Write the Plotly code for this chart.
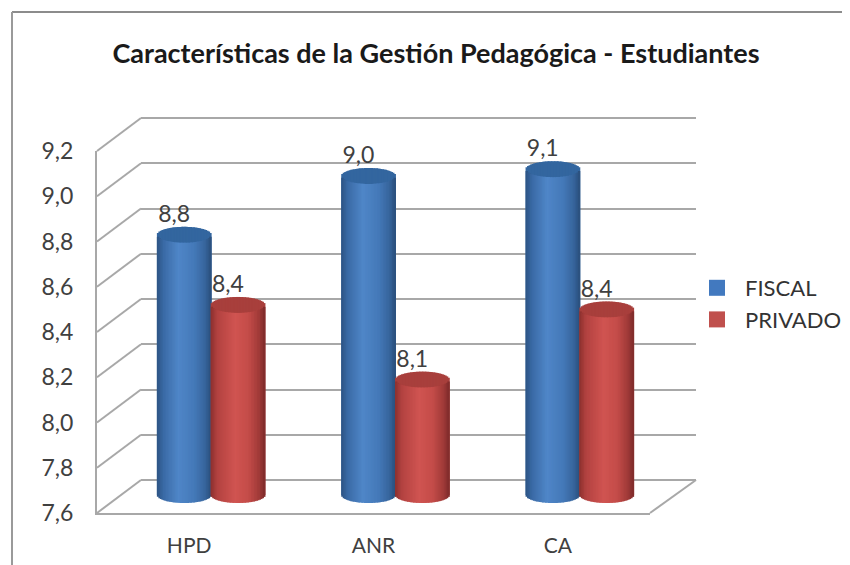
import math
import plotly.graph_objects as go

categories = ["HPD", "ANR", "CA"]
fiscal = [8.75, 9.01, 9.04]
privado = [8.44, 8.11, 8.42]
fiscal_labels = ["8,8", "9,0", "9,1"]
privado_labels = ["8,4", "8,1", "8,4"]
tick_values = [7.6, 7.8, 8.0, 8.2, 8.4, 8.6, 8.8, 9.0, 9.2]
tick_labels = ["7,6", "7,8", "8,0", "8,2", "8,4", "8,6", "8,8", "9,0", "9,2"]

# the page has an 8px body margin, the figure fills what is left of the window
PAGE = 8
W, H = 850 - PAGE, 565 - PAGE
FONT = "Lato"
TXT = "#404040"
GRID = "#a8a8a8"
FRONT = dict(l=97, r=650, b=513, t=151)
DX, DY_MID, DY_BACK = 22, 18, 33
UNIT = (FRONT["b"] - FRONT["t"]) / 1.6
EXTRA = 22  # px the mid plane extends below its floor, for the round cylinder base
PAD = 6     # px the back wall extends past its first and last gridline
RX = 0.146  # half a cylinder, in category units
RY = 8 / UNIT  # half height of the ellipses, in value units
N = 36

BLUE = [(0, "#2c5383"), (.12, "#3a6aa5"), (.4, "#4f86c8"), (.7, "#4479b8"), (.9, "#36649b"), (1, "#2a4f7c")]
RED = [(0, "#8c302e"), (.12, "#b24240"), (.45, "#d05451"), (.7, "#c44c49"), (.9, "#a03a38"), (1, "#7e2b2a")]
BLUE_TOP, RED_TOP = "#33669f", "#a83f3c"


def mix(stops, u):
    for (a, ca), (b, cb) in zip(stops, stops[1:]):
        if u <= b:
            f = (u - a) / (b - a)
            ch = [round(int(ca[i:i + 2], 16) * (1 - f) + int(cb[i:i + 2], 16) * f) for i in (1, 3, 5)]
            return "rgb({},{},{})".format(*ch)
    return stops[-1][1]


def px(x):
    return (x - PAGE) / W


def py(y):
    return (H + PAGE - y) / H


fig = go.Figure()

# back wall: its gridlines are the axis grid of the first subplot
fig.add_trace(go.Scatter(x=[None], y=[None], xaxis="x", yaxis="y", showlegend=False, hoverinfo="skip"))


def cylinders(values, centre, stops, top):
    step = 2 * RX / N
    w = step * 1.6
    strips = []
    for k in range(N):
        u = (k + .5) / N
        arc = RY * math.sqrt(1 - (2 * u - 1) ** 2)
        strips.append((u, arc, [i + centre - RX + u * 2 * RX for i in range(3)]))
    # the lids go first, so that no lid strip overlaps a neighbouring body strip
    for u, arc, xs in strips:
        fig.add_trace(go.Bar(
            x=xs, y=[v + arc - 7.6 for v in values], base=7.6, width=w,
            marker=dict(color=top, line=dict(width=0)), xaxis="x2", yaxis="y2",
            showlegend=False, hoverinfo="skip"))
    for u, arc, xs in strips:
        fig.add_trace(go.Bar(
            x=xs, y=[v - 7.6 for v in values], base=7.6 - arc, width=w,
            marker=dict(color=mix(stops, u), line=dict(width=0)), xaxis="x2", yaxis="y2",
            showlegend=False, hoverinfo="skip"))


cylinders(fiscal, -RX, BLUE, BLUE_TOP)
cylinders(privado, RX, RED, RED_TOP)

LABEL_SHIFT = -0.055
LABEL_LIFT = 7 / UNIT
for values, labels, centre in ((fiscal, fiscal_labels, -RX), (privado, privado_labels, RX)):
    fig.add_trace(go.Scatter(
        x=[i + centre + LABEL_SHIFT for i in range(3)], y=[v + LABEL_LIFT for v in values],
        text=labels, mode="text", textposition="top center",
        textfont=dict(family=FONT, size=23, color=TXT),
        xaxis="x2", yaxis="y2", showlegend=False, hoverinfo="skip", cliponaxis=False))

# front plane carries the tick labels
fig.add_trace(go.Scatter(x=[None], y=[None], xaxis="x3", yaxis="y3", showlegend=False, hoverinfo="skip"))

for name, color in (("FISCAL", "#4279bf"), ("PRIVADO", "#c0504d")):
    fig.add_trace(go.Scatter(x=[None], y=[None], mode="markers", name=name, xaxis="x3", yaxis="y3",
                             marker=dict(symbol="square", size=16, color=color)))

shapes = [
    # frame of the picture
    dict(type="line", xref="paper", yref="paper", x0=px(12), x1=1, y0=py(12), y1=py(12),
         line=dict(color="#8c8c8c", width=2)),
    dict(type="line", xref="paper", yref="paper", x0=px(12), x1=px(12), y0=py(12), y1=0,
         line=dict(color="#9a9a9a", width=2)),
    # floor, right edge
    dict(type="line", xref="paper", yref="paper", x0=px(FRONT["r"]), x1=px(FRONT["r"] + 46),
         y0=py(FRONT["b"]), y1=py(FRONT["b"] - DY_BACK), line=dict(color=GRID, width=2)),
]
# side wall diagonals, one per tick
for tv in tick_values:
    yf = FRONT["b"] - (tv - 7.6) * UNIT
    shapes.append(dict(type="line", xref="paper", yref="paper", x0=px(FRONT["l"]), x1=px(FRONT["l"] + 44),
                       y0=py(yf), y1=py(yf - DY_BACK), line=dict(color=GRID, width=2), layer="below"))

hidden = dict(visible=False, fixedrange=True)
fig.update_layout(
    width=W, height=H, margin=dict(l=0, r=0, t=0, b=0, autoexpand=False),
    paper_bgcolor="white", plot_bgcolor="rgba(0,0,0,0)",
    barmode="overlay", font=dict(family=FONT, color=TXT),
    title=dict(text="<b>Características de la Gestión Pedagógica - Estudiantes</b>",
               x=px(436), xanchor="center", y=py(54), yanchor="middle",
               font=dict(family=FONT, size=27, color="#1a1a1a")),
    # back wall
    xaxis=dict(domain=[px(FRONT["l"] + 44), px(FRONT["r"] + 46)], range=[0, 1], anchor="y", **hidden),
    yaxis=dict(domain=[py(FRONT["b"] - DY_BACK + PAD), py(FRONT["t"] - DY_BACK - PAD)],
               range=[7.6 - PAD / UNIT, 9.2 + PAD / UNIT], anchor="x",
               tickvals=tick_values, showticklabels=False, ticks="", showgrid=True, gridcolor=GRID, gridwidth=2,
               zeroline=False, showline=False, fixedrange=True),
    # mid plane, where the cylinders stand
    xaxis2=dict(domain=[px(FRONT["l"] + DX), px(FRONT["r"] + DX)], range=[-.5, 2.5], anchor="y2", **hidden),
    yaxis2=dict(domain=[py(FRONT["b"] - DY_MID + EXTRA), py(FRONT["t"] - DY_MID)],
                range=[7.6 - EXTRA / UNIT, 9.2], anchor="x2", **hidden),
    # front plane
    xaxis3=dict(domain=[px(FRONT["l"]), px(FRONT["r"])], range=[-.5, 2.5], anchor="y3",
                tickvals=[0, 1, 2], ticktext=categories, ticks="", ticklabelstandoff=13,
                tickfont=dict(family=FONT, size=21, color=TXT),
                showgrid=False, zeroline=False, showline=True, linecolor=GRID, linewidth=2, fixedrange=True),
    yaxis3=dict(domain=[py(FRONT["b"]), py(FRONT["t"])], range=[7.6, 9.2], anchor="x3",
                tickvals=tick_values, ticktext=tick_labels, ticks="", ticklabelstandoff=17,
                tickfont=dict(family=FONT, size=23, color=TXT),
                showgrid=False, zeroline=False, showline=True, linecolor=GRID, linewidth=2, fixedrange=True),
    legend=dict(x=px(689), xanchor="left", y=py(267), yanchor="top", bgcolor="rgba(0,0,0,0)", itemwidth=46,
                font=dict(family=FONT, size=22, color="#333333")),
    shapes=shapes,
)

fig.write_html("out.html", default_width=f"{W}px", default_height=f"{H}px")
